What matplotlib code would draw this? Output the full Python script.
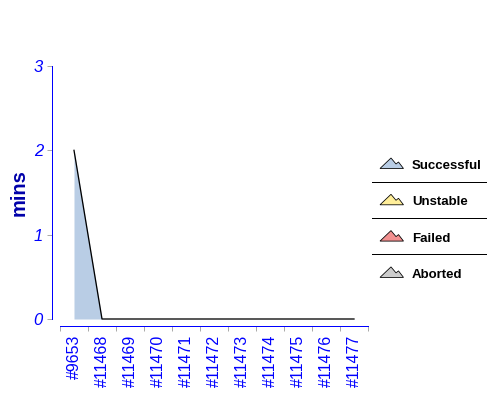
import matplotlib
matplotlib.use("Agg")
import matplotlib.pyplot as plt
from matplotlib.patches import Polygon
import numpy as np

plt.rcParams['font.family'] = ['Liberation Sans', 'DejaVu Sans']

# build numbers and durations (minutes)
builds = ["#9653", "#11468", "#11469", "#11470", "#11471", "#11472",
          "#11473", "#11474", "#11475", "#11476", "#11477"]
successful = [2, 0, 0, 0, 0, 0, 0, 0, 0, 0, 0]
unstable = [0, 0, 0, 0, 0, 0, 0, 0, 0, 0, 0]
failed = [0, 0, 0, 0, 0, 0, 0, 0, 0, 0, 0]
aborted = [0, 0, 0, 0, 0, 0, 0, 0, 0, 0, 0]
yticks = [0, 1, 2, 3]

legend_names = ["Successful", "Unstable", "Failed", "Aborted"]
legend_colors = ["#B9CDE5", "#FFEE99", "#F29090", "#CCCCCC"]

px = 72 / 100  # points per pixel

fig = plt.figure(figsize=(5, 4), dpi=100)
ax = fig.add_axes([60 / 500, 1 - 319 / 400, 308 / 500, 253 / 400])

x = np.arange(len(builds))
s = np.array(successful)
u = s + np.array(unstable)
f = u + np.array(failed)
a = f + np.array(aborted)
ax.fill_between(x, 0, s, color=legend_colors[0], lw=0)
ax.fill_between(x, s, u, color=legend_colors[1], lw=0)
ax.fill_between(x, u, f, color=legend_colors[2], lw=0)
ax.fill_between(x, f, a, color=legend_colors[3], lw=0)
ax.plot(x, a, color="black", lw=1.3 * px, clip_on=False)

ax.set_xlim(-0.5, len(builds) - 0.5)
ax.set_ylim(0, 3)

for side in ["top", "right"]:
    ax.spines[side].set_visible(False)
ax.spines["left"].set_position(("outward", 8 * px))
ax.spines["bottom"].set_position(("outward", 7 * px))
ax.spines["left"].set_color("#0000FF")
ax.spines["bottom"].set_color("#0000FF")
ax.spines["left"].set_linewidth(1.0 * px)
ax.spines["bottom"].set_linewidth(1.0 * px)

ax.set_yticks(yticks)
ax.set_yticklabels([str(t) for t in yticks], fontsize=12, fontstyle="italic",
                   color="#0000FF")
ax.tick_params(axis="y", length=5 * px, width=1.0 * px, color="#AAAAAA",
               pad=4 * px)

ax.set_xticks(x)
ax.set_xticklabels(builds, rotation=90, fontsize=11.5, color="#0000FF",
                   va="top", ha="center")
ax.tick_params(axis="x", which="major", length=0, pad=9 * px)
ax.set_xticks(np.arange(len(builds) + 1) - 0.5, minor=True)
ax.tick_params(axis="x", which="minor", length=5 * px, width=1.0 * px,
               color="#AAAAAA")

fig.text(19 / 500, 1 - 193 / 400, "mins", rotation=90, ha="center",
         va="center", fontsize=14.5, fontweight="bold", color="#0000AA")

# legend drawn in pixel coordinates
lg = fig.add_axes([0, 0, 1, 1])
lg.set_xlim(0, 500)
lg.set_ylim(400, 0)
lg.axis("off")
shape = np.array([[0, 0], [11, -10.5], [16, -4.5], [18.5, -6.5], [23.5, 0]])
for i, (name, col) in enumerate(zip(legend_names, legend_colors)):
    yc = 166 + i * 36.3
    pts = shape + [380, yc + 2.5]
    lg.add_patch(Polygon(pts, closed=True, facecolor=col, edgecolor="black",
                         lw=0.8 * px))
    lg.text(412, yc, name, fontsize=9.5, fontweight="bold", color="black",
            ha="left", va="center")
    if i < len(legend_names) - 1:
        lg.plot([372, 486], [yc + 15.5, yc + 15.5], color="black",
                lw=1.0 * px)

fig.savefig("out.png", dpi=100)
